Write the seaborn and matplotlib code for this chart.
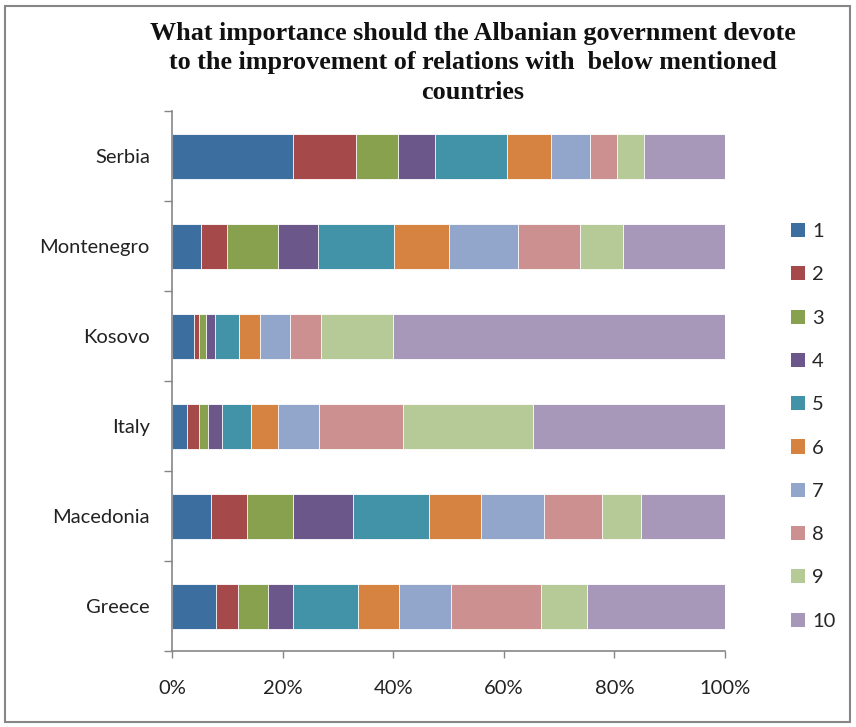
import numpy as np
import pandas as pd
import matplotlib.pyplot as plt
import seaborn as sns
from matplotlib.patches import Patch, Rectangle

sns.set_theme(style="white")
plt.rcParams['font.family'] = ['Lato', 'DejaVu Sans']

countries = ["Serbia", "Montenegro", "Kosovo", "Italy", "Macedonia", "Greece"]
scores = ["1", "2", "3", "4", "5", "6", "7", "8", "9", "10"]
serbia = [21.8, 11.5, 7.6, 6.7, 13.0, 8.0, 6.9, 5.0, 4.8, 14.7]
montenegro = [5.2, 4.7, 9.2, 7.3, 13.8, 9.8, 12.6, 11.1, 7.8, 18.5]
kosovo = [3.9, 1.0, 1.3, 1.6, 4.4, 3.8, 5.4, 5.6, 13.0, 60.0]
italy = [2.8, 2.0, 1.8, 2.4, 5.3, 4.8, 7.5, 15.2, 23.5, 34.7]
macedonia = [7.0, 6.6, 8.3, 10.8, 13.7, 9.4, 11.4, 10.6, 7.0, 15.2]
greece = [8.0, 4.0, 5.4, 4.4, 11.8, 7.4, 9.4, 16.4, 8.2, 25.0]
colors = ["#3C6E9F", "#A5494A", "#87A14F", "#6C578B", "#4393A8",
          "#D68342", "#92A5CB", "#CD9090", "#B5CA96", "#A797B9"]

df = pd.DataFrame([serbia, montenegro, kosovo, italy, macedonia, greece],
                  index=countries, columns=scores)
pct = df.div(df.sum(axis=1), axis=0) * 100
cum = pct.cumsum(axis=1)

fig = plt.figure(figsize=(8.56, 7.27), dpi=100)
ax = fig.add_axes([172 / 856, 1 - 651 / 727, 553 / 856, 540 / 727])

# stacked bars: draw cumulative totals from the last score down to the first
for i in range(len(scores) - 1, -1, -1):
    sns.barplot(x=cum[scores[i]].values, y=countries, orient="h", color=colors[i],
                saturation=1, width=0.5, edgecolor="white", linewidth=0.6, ax=ax)

ax.set_xlim(0, 100)
ax.set_ylim(5.5, -0.5)
ax.set_xticks(np.arange(0, 101, 20))
ax.set_xticklabels([f"{v}%" for v in range(0, 101, 20)], fontsize=14.5, color="#222222")
ax.set_yticks(range(len(countries)))
ax.set_yticklabels(countries, fontsize=14.5, color="#222222")
ax.set_yticks(np.arange(-0.5, 6, 1), minor=True)
ax.tick_params(axis="y", which="major", length=0, pad=16)
ax.tick_params(axis="y", which="minor", length=6, width=1, color="#868686", left=True)
ax.tick_params(axis="x", which="major", length=5, width=1, color="#868686", bottom=True, pad=16)
ax.set_xlabel("")
ax.set_ylabel("")
for s in ["top", "right"]:
    ax.spines[s].set_visible(False)
for s in ["left", "bottom"]:
    ax.spines[s].set_color("#868686")
    ax.spines[s].set_linewidth(1.2)

handles = [Patch(facecolor=c, edgecolor="none") for c in colors]
fig.legend(handles, scores, loc="upper left", bbox_to_anchor=(781 / 856, 1 - 213 / 727),
           frameon=False, fontsize=14.5, labelspacing=1.3, handlelength=0.7,
           handleheight=0.7, handletextpad=0.35, borderpad=0)

fig.text(0.552, 1 - 22 / 727,
         "What importance should the Albanian government devote\n"
         "to the improvement of relations with  below mentioned\ncountries",
         ha="center", va="top", fontsize=18.8, fontweight="bold",
         family="Liberation Serif", linespacing=1.36, color="#111111")

fig.patches.append(Rectangle((5 / 856, 5 / 727), 845 / 856, 716 / 727, transform=fig.transFigure,
                             fill=False, edgecolor="#868686", linewidth=1.5))

fig.savefig("out.png", dpi=100)
